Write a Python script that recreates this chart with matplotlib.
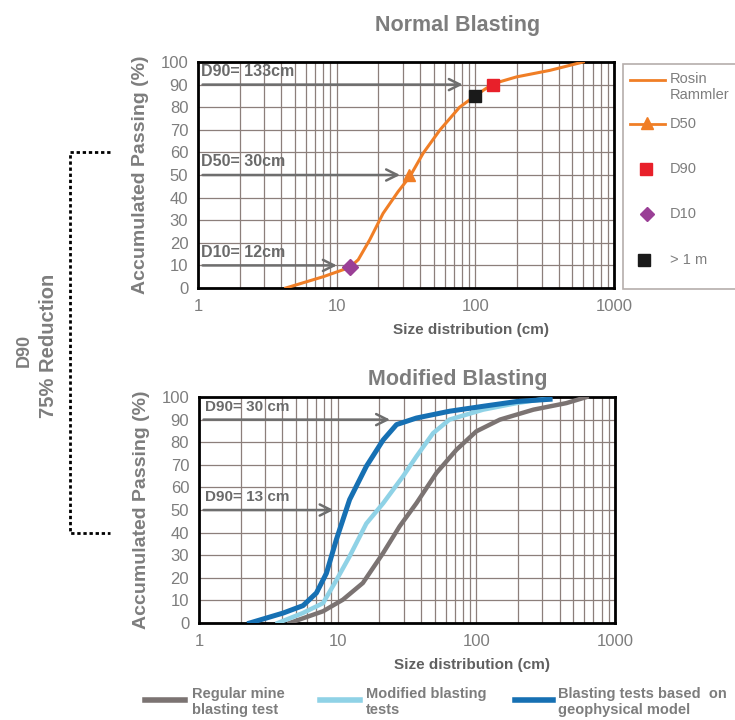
import matplotlib
matplotlib.use("Agg")
import matplotlib.pyplot as plt
from matplotlib.lines import Line2D
from matplotlib.patches import Rectangle
from matplotlib.ticker import LogLocator, FixedLocator, NullFormatter

plt.rcParams['font.family'] = ['Liberation Sans', 'DejaVu Sans']

# ---- data: Normal blasting (Rosin Rammler curve) ----
rr_size = [4.3, 8, 12.4, 14.3, 17.3, 21.6, 27.7, 33.7, 42, 55.5, 77, 105, 134.6, 198, 345, 600]
rr_pass = [0, 5, 9.1, 12.5, 21.3, 33, 42.6, 49.3, 59.6, 69.9, 80, 86, 90.4, 93.4, 96.3, 100]
d10 = (12.4, 9.5)
d50 = (33, 50)
d90 = (135, 90)
over1m = (100, 85)
top_arrows_y = [90, 50, 10]
top_arrows_x = [85, 30, 10.5]
top_labels = ["D90= 133cm", "D50= 30cm", "D10= 12cm"]
top_legend_labels = ["Rosin\nRammler", "D50", "D90", "D10", "> 1 m"]

# ---- data: Modified blasting ----
geo_size = [2.32, 4.04, 5.63, 7.03, 8.3, 9.8, 12.2, 16.1, 21.3, 26.6, 37, 64, 112, 195, 340]
geo_pass = [0, 4.4, 7.7, 13.3, 22, 37, 54.6, 69.3, 81, 87.8, 90.7, 93.7, 95.9, 98, 99]
mod_size = [3.7, 5.6, 7.85, 9.8, 12.2, 16.1, 21.3, 29.7, 37, 48.8, 64, 112, 195, 340]
mod_pass = [0, 4.4, 8.8, 19, 29.5, 44, 53, 65, 73.7, 84, 90, 94.4, 97.3, 99.5]
reg_size = [4.5, 7.85, 10.9, 15.2, 21.3, 28, 37, 51.6, 72, 100, 148, 258, 446, 625]
reg_pass = [0, 5.2, 10.3, 17.7, 31, 42.8, 53, 66.4, 76.7, 84.8, 90, 94.4, 97.3, 100]
bot_arrows_y = [90, 50]
bot_arrows_x = [25, 9.8]
bot_labels = ["D90= 30 cm", "D90= 13 cm"]

series_labels = ["Regular mine\nblasting test", "Modified blasting\ntests", "Blasting tests based  on\ngeophysical model"]

x_ticks = [1, 10, 100, 1000]
x_ticklabels = ["1", "10", "100", "1000"]
y_ticks = list(range(0, 101, 10))

ORANGE = '#f07e26'
RED = '#e8202a'
PURPLE = '#9a3f96'
BLACK = '#1a1a1a'
GRAY_TXT = '#7d7d7d'
GRID = '#8c7f7b'
ARROW = '#6e6e6e'
C_REG = '#7b7372'
C_MOD = '#8fd2e6'
C_GEO = '#1670b3'

W, H = 735, 720
fig = plt.figure(figsize=(7.35, 7.2), dpi=100)
ax1 = fig.add_axes([0.2694, 0.600, 0.566, 0.3139])
ax2 = fig.add_axes([0.2707, 0.1347, 0.566, 0.3139])


def fx(px):
    return px / W


def fy(py):
    return 1 - py / H


def style(ax, title, title_pad):
    ax.set_xscale('log')
    ax.set_xlim(1, 1000)
    ax.set_ylim(0, 100)
    ax.xaxis.set_major_locator(FixedLocator(x_ticks))
    ax.set_xticklabels(x_ticklabels)
    ax.xaxis.set_minor_locator(LogLocator(base=10, subs=range(2, 10)))
    ax.xaxis.set_minor_formatter(NullFormatter())
    ax.set_yticks(y_ticks)
    ax.grid(True, which='both', axis='x', color=GRID, lw=0.9)
    ax.grid(True, which='major', axis='y', color=GRID, lw=0.9)
    ax.set_axisbelow(True)
    for s in ax.spines.values():
        s.set_linewidth(2)
        s.set_color('black')
    ax.tick_params(which='both', length=0)
    ax.tick_params(axis='y', pad=7, labelsize=12, labelcolor=GRAY_TXT)
    ax.tick_params(axis='x', pad=8, labelsize=12, labelcolor=GRAY_TXT)
    ax.set_ylabel("Accumulated Passing (%)", fontsize=14, fontweight='bold', color=GRAY_TXT, labelpad=8)
    ax.set_xlabel("Size distribution (cm)", fontsize=11, fontweight='bold', color='#606060')
    ax.xaxis.set_label_coords(0.656, -0.155)
    ax.set_title(title, fontsize=15.5, fontweight='bold', color=GRAY_TXT, pad=title_pad, x=0.623)


style(ax1, "Normal Blasting", 22)
style(ax2, "Modified Blasting", 9)

# top chart
ax1.plot(rr_size, rr_pass, color=ORANGE, lw=2.2, zorder=3)
ax1.plot([d50[0]], [d50[1]], color=ORANGE, marker='^', ms=9, ls='none', zorder=4)
ax1.plot([d90[0]], [d90[1]], color=RED, marker='s', ms=9, ls='none', zorder=4)
ax1.plot([d10[0]], [d10[1]], color=PURPLE, marker='D', ms=8, ls='none', zorder=4)
ax1.plot([over1m[0]], [over1m[1]], color=BLACK, marker='s', ms=9, ls='none', zorder=4)

for y, x, lab in zip(top_arrows_y, top_arrows_x, top_labels):
    ax1.annotate("", xy=(x, y), xytext=(1.03, y),
                 arrowprops=dict(arrowstyle='->', color=ARROW, lw=1.8, mutation_scale=20), zorder=2)
    ax1.text(1.05, y + 2.5, lab, fontsize=11.5, fontweight='bold', color='#6a6a6a', va='bottom', ha='left')

# top legend (manual, figure coords)
fig.add_artist(Rectangle((fx(623), fy(289)), fx(130), 225 / H, transform=fig.transFigure,
                         facecolor='white', edgecolor='#b5aeab', lw=1.2, clip_on=False))
fig.add_artist(Line2D([fx(630), fx(665)], [fy(80)] * 2, color=ORANGE, lw=2, transform=fig.transFigure))
fig.add_artist(Line2D([fx(630), fx(665)], [fy(124)] * 2, color=ORANGE, lw=2, transform=fig.transFigure))
fig.add_artist(Line2D([fx(647)], [fy(123)], color=ORANGE, marker='^', ms=9, transform=fig.transFigure))
fig.add_artist(Line2D([fx(646)], [fy(169)], color=RED, marker='s', ms=8, transform=fig.transFigure))
fig.add_artist(Line2D([fx(647)], [fy(214)], color=PURPLE, marker='D', ms=7, transform=fig.transFigure))
fig.add_artist(Line2D([fx(644)], [fy(260)], color=BLACK, marker='s', ms=8, transform=fig.transFigure))
fig.text(fx(670), fy(72), top_legend_labels[0], fontsize=10.5, color=GRAY_TXT, va='top', ha='left',
         linespacing=1.15)
for lab, py in zip(top_legend_labels[1:], [124, 169, 214, 260]):
    fig.text(fx(670), fy(py), lab, fontsize=10.5, color=GRAY_TXT, va='center', ha='left')

# bottom chart
ax2.plot(reg_size, reg_pass, color=C_REG, lw=3.2, zorder=3)
ax2.plot(mod_size, mod_pass, color=C_MOD, lw=3.2, zorder=3)
ax2.plot(geo_size, geo_pass, color=C_GEO, lw=3.6, zorder=4)
for y, x, lab in zip(bot_arrows_y, bot_arrows_x, bot_labels):
    ax2.annotate("", xy=(x, y), xytext=(1.03, y),
                 arrowprops=dict(arrowstyle='->', color=ARROW, lw=1.8, mutation_scale=20), zorder=2)
    ax2.text(1.1, y + 2.5, lab, fontsize=11, fontweight='bold', color='#6a6a6a', va='bottom', ha='left')

# bottom legend (manual, figure coords)
leg_items = [(145, 185, 192, C_REG), (320, 360, 366, C_MOD), (515, 553, 558, C_GEO)]
for (x0, x1, xt, c), lab in zip(leg_items, series_labels):
    fig.add_artist(Line2D([fx(x0), fx(x1)], [fy(700)] * 2, color=c, lw=4, transform=fig.transFigure))
    fig.text(fx(xt), fy(702), lab, fontsize=10.5, fontweight='bold', color=GRAY_TXT,
             va='center', ha='left', linespacing=1.1)

# left bracket and annotation
fig.add_artist(Line2D([fx(110), fx(70), fx(70), fx(110)], [fy(152), fy(152), fy(533), fy(533)],
                      color='black', lw=2, ls=(0, (1.2, 1.0)), transform=fig.transFigure))
fig.text(fx(24), fy(350), "D90", rotation=90, fontsize=13, color=GRAY_TXT,
         va='center', ha='center', fontweight='bold')
fig.text(fx(49), fy(346), "75% Reduction", rotation=90, fontsize=14.5, color=GRAY_TXT,
         va='center', ha='center', fontweight='bold')

fig.savefig("out.png", dpi=100)
